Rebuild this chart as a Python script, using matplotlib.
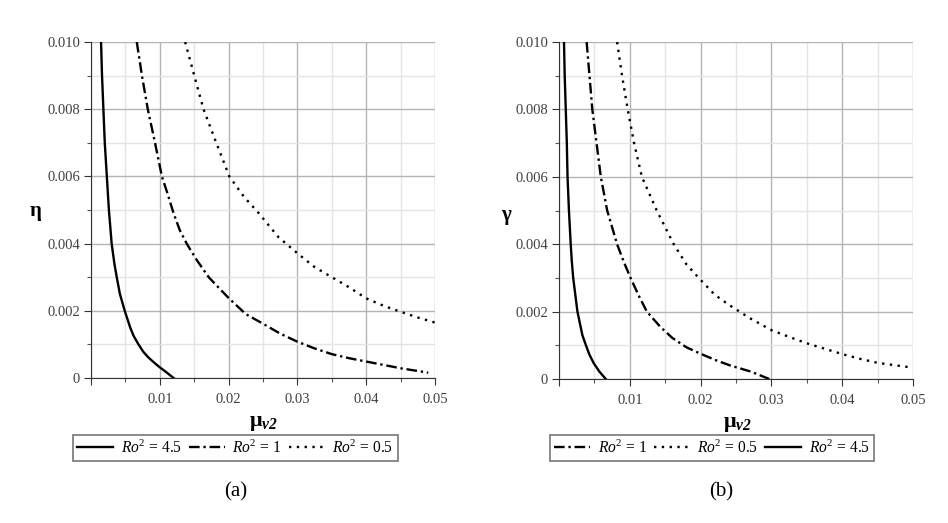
import numpy as np
import matplotlib
matplotlib.use("Agg")
import matplotlib.pyplot as plt
from matplotlib.ticker import MultipleLocator, FuncFormatter

plt.rcParams['font.family'] = ['Liberation Serif', 'DejaVu Serif']
plt.rcParams['mathtext.fontset'] = 'custom'
plt.rcParams['mathtext.rm'] = 'Liberation Serif'
plt.rcParams['mathtext.it'] = 'Liberation Serif:italic'
plt.rcParams['mathtext.bf'] = 'Liberation Serif:bold'
plt.rcParams['mathtext.bfit'] = 'Liberation Serif:italic:bold'

# (a) eta vs mu_v2
a_x_45 = [0.00146, 0.0016, 0.0018, 0.0020, 0.0023, 0.0026, 0.0030, 0.0034, 0.00374, 0.0042,
          0.0049, 0.0053, 0.0057, 0.0062, 0.0069, 0.0076, 0.0083, 0.0090, 0.0098, 0.0109, 0.0120]
a_y_45 = [0.010, 0.009, 0.008, 0.007, 0.006, 0.005, 0.004, 0.0034, 0.003, 0.0025,
          0.002, 0.00175, 0.0015, 0.00125, 0.001, 0.00078, 0.00062, 0.00049, 0.00035, 0.00018, 0.0]
a_x_1 = [0.00665, 0.0074, 0.00825, 0.0093, 0.0103, 0.0111, 0.0120, 0.0129, 0.0139, 0.0154,
         0.0171, 0.0185, 0.0200, 0.0225, 0.0247, 0.0275, 0.030, 0.0325, 0.035, 0.0375,
         0.040, 0.0425, 0.045, 0.049]
a_y_1 = [0.010, 0.009, 0.008, 0.007, 0.006, 0.0055, 0.0049, 0.0044, 0.004, 0.0035,
         0.003, 0.0027, 0.00238, 0.0019, 0.00165, 0.00132, 0.00108, 0.00088, 0.00071, 0.00059,
         0.00049, 0.00039, 0.00029, 0.00016]
a_x_05 = [0.01368, 0.0150, 0.01635, 0.0182, 0.0201, 0.0222, 0.0244, 0.0272, 0.030, 0.0325,
          0.035, 0.0375, 0.040, 0.0425, 0.045, 0.0475, 0.050]
a_y_05 = [0.010, 0.009, 0.008, 0.007, 0.006, 0.0054, 0.0049, 0.0042, 0.00371, 0.0033,
          0.0030, 0.0027, 0.00237, 0.00215, 0.00197, 0.0018, 0.00165]

# (b) gamma vs mu_v2
b_x_45 = [0.0007, 0.0008, 0.00095, 0.0011, 0.0012, 0.0014, 0.00165, 0.0018, 0.0020, 0.0023,
          0.0026, 0.0029, 0.0033, 0.0038, 0.0043, 0.0049, 0.0057, 0.0066]
b_y_45 = [0.010, 0.009, 0.008, 0.007, 0.006, 0.005, 0.004, 0.0035, 0.003, 0.0025,
          0.002, 0.0017, 0.0013, 0.001, 0.00072, 0.00047, 0.00022, 0.0]
b_x_1 = [0.0039, 0.0043, 0.0047, 0.0053, 0.0059, 0.0068, 0.0082, 0.0091, 0.0101, 0.0112,
         0.0124, 0.0143, 0.0160, 0.0180, 0.0200, 0.0220, 0.0242, 0.0271, 0.0297]
b_y_1 = [0.010, 0.009, 0.008, 0.007, 0.006, 0.005, 0.004, 0.0035, 0.003, 0.0025,
         0.002, 0.00155, 0.00122, 0.00094, 0.00075, 0.00057, 0.0004, 0.00022, 0.0]
b_x_05 = [0.0082, 0.0089, 0.0097, 0.0106, 0.0117, 0.0138, 0.0162, 0.0180, 0.0200, 0.0220,
          0.0240, 0.0270, 0.0300, 0.0325, 0.035, 0.0375, 0.040, 0.0425, 0.045, 0.0495]
b_y_05 = [0.010, 0.009, 0.008, 0.007, 0.006, 0.005, 0.004, 0.0034, 0.00294, 0.0025,
          0.0022, 0.0018, 0.00145, 0.00125, 0.00106, 0.0009, 0.00074, 0.0006, 0.00048, 0.00035]

lab_45 = r"$\mathit{Ro}^2$ = 4.5"
lab_1 = r"$\mathit{Ro}^2$ = 1"
lab_05 = r"$\mathit{Ro}^2$ = 0.5"

sty_45 = dict(color='black', lw=1.7, linestyle='-')
sty_1 = dict(color='black', lw=1.7, linestyle=(0, (4.5, 1.6, 1, 1.6)))
sty_05 = dict(color='black', lw=1.7, linestyle=(0, (1, 2.3)))

fig = plt.figure(figsize=(9.48, 5.23), dpi=100)
ax1 = fig.add_axes([0.096, 0.2772, 0.363, 0.6425])
ax2 = fig.add_axes([0.5897, 0.2753, 0.3734, 0.6444])


def ylab(v, pos):
    if v == 0:
        return "0"
    return "%.3f" % v


def xlab(v, pos):
    if v == 0:
        return ""
    return "%.2f" % v


def style_axes(ax):
    ax.set_xlim(0, 0.05)
    ax.set_ylim(0, 0.010)
    ax.xaxis.set_major_locator(MultipleLocator(0.01))
    ax.xaxis.set_minor_locator(MultipleLocator(0.005))
    ax.yaxis.set_major_locator(MultipleLocator(0.002))
    ax.yaxis.set_minor_locator(MultipleLocator(0.001))
    ax.yaxis.set_major_formatter(FuncFormatter(ylab))
    ax.xaxis.set_major_formatter(FuncFormatter(xlab))
    ax.grid(which='major', color='#b4b4b4', lw=1.0)
    ax.grid(which='minor', color='#e4e4e4', lw=1.0)
    ax.set_axisbelow(True)
    ax.spines['top'].set_visible(False)
    ax.spines['right'].set_visible(False)
    ax.spines['left'].set_color('#333333')
    ax.spines['bottom'].set_color('#333333')
    ax.tick_params(which='major', length=5, width=0.8, color='#333333',
                   labelsize=10.5, labelcolor='#404040', pad=3)
    ax.tick_params(which='minor', length=3, width=0.8, color='#555555')
    ax.tick_params(axis='x', which='major', pad=6)


def add_legend(ax, handles, anchor):
    leg = ax.legend(handles=handles, ncol=3, loc='center', bbox_to_anchor=anchor,
                    frameon=True, fancybox=False, edgecolor='#555555', fontsize=11.2,
                    handlelength=2.3, handletextpad=0.5, columnspacing=0.45,
                    borderpad=0.28, borderaxespad=0)
    leg.get_frame().set_linewidth(1.2)
    return leg


style_axes(ax1)
l1, = ax1.plot(a_x_45, a_y_45, label=lab_45, **sty_45)
l2, = ax1.plot(a_x_1, a_y_1, label=lab_1, **sty_1)
l3, = ax1.plot(a_x_05, a_y_05, label=lab_05, **sty_05)
ax1.text(-0.16, 0.49, r"$\mathbf{\eta}$", transform=ax1.transAxes, fontsize=15,
         ha='center', va='center')
ax1.text(0.5, -0.135, r"$\mathbf{\mu}_{\mathbfit{v2}}$", transform=ax1.transAxes,
         fontsize=16, ha='center', va='center')
add_legend(ax1, [l1, l2, l3], (0.419, -0.208))

style_axes(ax2)
m1, = ax2.plot(b_x_1, b_y_1, label=lab_1, **sty_1)
m2, = ax2.plot(b_x_05, b_y_05, label=lab_05, **sty_05)
m3, = ax2.plot(b_x_45, b_y_45, label=lab_45, **sty_45)
ax2.text(-0.147, 0.48, r"$\mathbf{\gamma}$", transform=ax2.transAxes, fontsize=15,
         ha='center', va='center')
ax2.text(0.503, -0.135, r"$\mathbf{\mu}_{\mathbfit{v2}}$", transform=ax2.transAxes,
         fontsize=16, ha='center', va='center')
add_legend(ax2, [m1, m2, m3], (0.432, -0.205))

fig.text(0.249, 0.059, "(a)", fontsize=15, ha='center', va='center')
fig.text(0.761, 0.059, "(b)", fontsize=15, ha='center', va='center')

fig.savefig("out.png", dpi=100)
